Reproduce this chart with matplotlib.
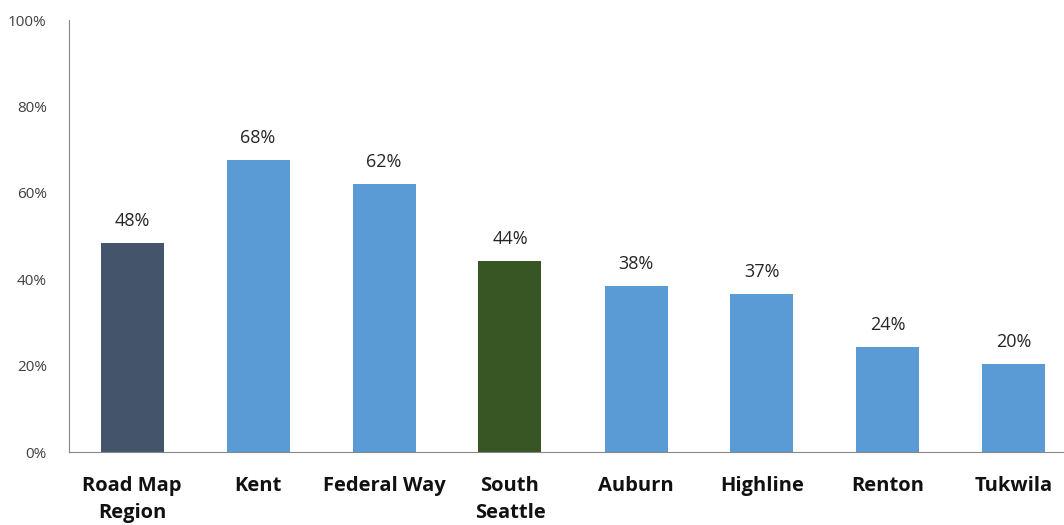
import matplotlib.pyplot as plt

categories = ["Road Map\nRegion", "Kent", "Federal Way", "South\nSeattle",
              "Auburn", "Highline", "Renton", "Tukwila"]
values = [48.4, 67.6, 62.0, 44.2, 38.4, 36.6, 24.3, 20.4]
labels = ["48%", "68%", "62%", "44%", "38%", "37%", "24%", "20%"]
colors = ["#44546A", "#5B9BD5", "#5B9BD5", "#375623",
          "#5B9BD5", "#5B9BD5", "#5B9BD5", "#5B9BD5"]
yticks = [0, 20, 40, 60, 80, 100]

plt.rcParams['font.family'] = ['Open Sans', 'DejaVu Sans']

W, H = 1064, 525
fig = plt.figure(figsize=(W / 100, H / 100), dpi=100)
ax = fig.add_axes([69 / W, (H - 452) / H, (1064 - 69) / W, 432 / H])

x = range(len(categories))
ax.bar(x, values, width=0.5, color=colors, zorder=2)
for i, v in enumerate(values):
    ax.text(i, v + 3, labels[i], ha='center', va='bottom', fontsize=13, color='#262626')

ax.set_xlim(-0.5, -0.5 + (1064 - 69) / 126)
ax.set_ylim(0, 100)
ax.set_yticks(yticks)
ax.set_yticklabels([f"{t}%" for t in yticks], fontsize=11, color='#404040')
ax.set_xticks(list(x))
ax.set_xticklabels(categories, fontsize=14.5, fontweight='bold', color='#111111',
                   linespacing=1.5, va='top')
ax.tick_params(axis='both', length=0)
ax.tick_params(axis='x', pad=17)
ax.tick_params(axis='y', pad=16)
for s in ['top', 'right']:
    ax.spines[s].set_visible(False)
ax.spines['left'].set_color('#888888')
ax.spines['bottom'].set_color('#888888')

fig.savefig("out.png", dpi=100)
